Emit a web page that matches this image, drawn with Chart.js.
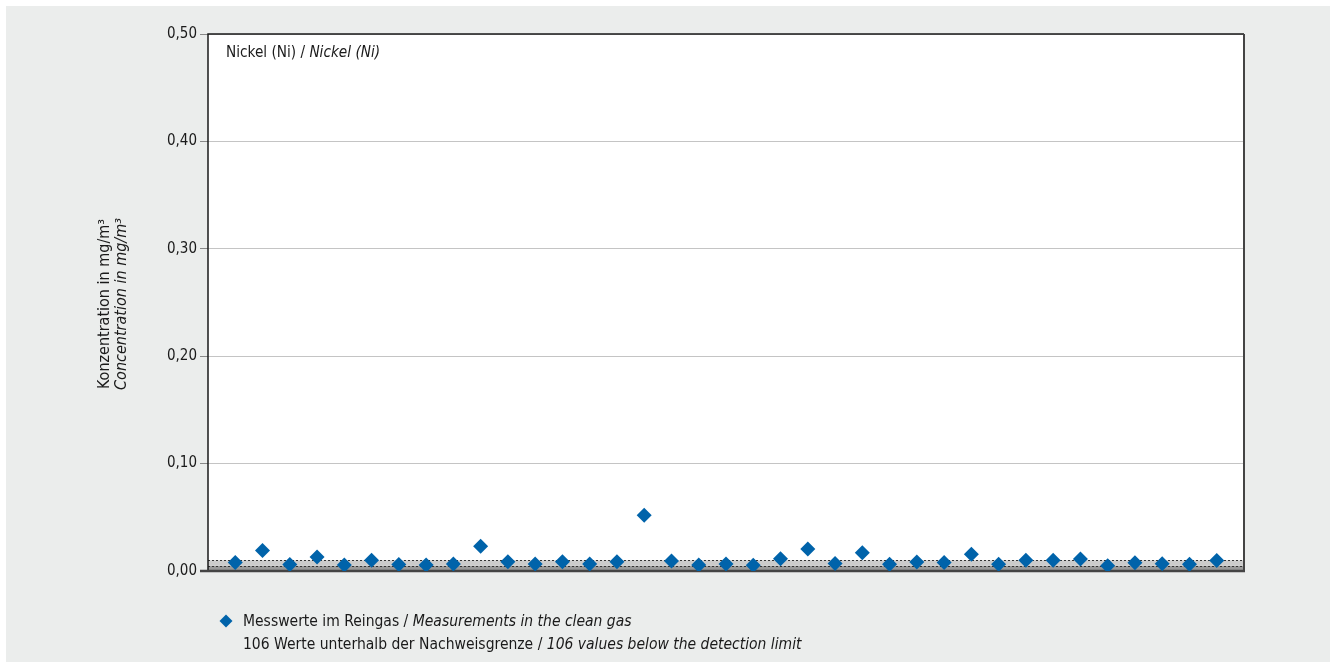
<!DOCTYPE html>
<html>
<head>
<meta charset="utf-8">
<script src="https://cdn.jsdelivr.net/npm/chart.js@4"></script>
<style>
  html, body { margin: 0; padding: 0; background: #fff; }
  #wrap { width: 1336px; height: 668px; }
</style>
</head>
<body>
<div id="wrap"><canvas id="myChart" width="1336" height="668"></canvas></div>
<script>
const FONT = "'Liberation Sans Narrow', 'DejaVu Sans Condensed', 'Liberation Sans', sans-serif";

// measurement index (1..37) and concentration in mg/m3
const positions = [1, 2, 3, 4, 5, 6, 7, 8, 9, 10, 11, 12, 13, 14, 15, 16, 17, 18, 19,
    20, 21, 22, 23, 24, 25, 26, 27, 28, 29, 30, 31, 32, 33, 34, 35, 36, 37];
const values = [0.008, 0.019, 0.006, 0.013, 0.0055, 0.010, 0.006, 0.0055, 0.0065, 0.023,
    0.0087, 0.0065, 0.0087, 0.0065, 0.0087, 0.052, 0.0093, 0.0055, 0.0065, 0.0053,
    0.0115, 0.0205, 0.007, 0.017, 0.0062, 0.0084, 0.0078, 0.0155, 0.0062, 0.0100,
    0.0100, 0.0112, 0.005, 0.0077, 0.0068, 0.0062, 0.0097];
const yTicks = [0, 0.1, 0.2, 0.3, 0.4, 0.5];
const detectionBand = [0.005, 0.01];

const titleRuns = [['Nickel (Ni) / ', false], ['Nickel (Ni)', true]];
const legendLine1 = [['Messwerte im Reingas / ', false], ['Measurements in the clean gas', true]];
const legendLine2 = [['106 Werte unterhalb der Nachweisgrenze / ', false], ['106 values below the detection limit', true]];
const axisTitle1 = 'Konzentration in mg/m³';
const axisTitle2 = 'Concentration in mg/m³';

const BLUE = '#0063aa';

function drawRuns(c, runs, x, y, size) {
    let cx = x;
    runs.forEach(function (r) {
        c.font = (r[1] ? 'italic ' : '') + size + 'px ' + FONT;
        c.fillText(r[0], cx, y);
        cx += c.measureText(r[0]).width;
    });
}

const decorPlugin = {
    id: 'decor',
    beforeDraw: function (chart) {
        const c = chart.ctx;
        c.save();
        c.fillStyle = '#ffffff';
        c.fillRect(0, 0, chart.width, chart.height);
        c.fillStyle = '#ebedec';
        c.fillRect(6, 6, chart.width - 12, chart.height - 12);
        const a = chart.chartArea;
        c.fillStyle = '#ffffff';
        c.fillRect(a.left, a.top, a.right - a.left, a.bottom - a.top);
        c.restore();
    },
    beforeDatasetsDraw: function (chart) {
        const c = chart.ctx;
        const a = chart.chartArea;
        const y = chart.scales.y;
        const yLo = y.getPixelForValue(detectionBand[0]);
        const yHi = y.getPixelForValue(detectionBand[1]);
        const y0 = y.getPixelForValue(0);
        c.save();
        c.fillStyle = '#999999';
        c.fillRect(a.left, yLo, a.right - a.left, y0 - yLo);
        c.fillStyle = '#cbcbcb';
        c.fillRect(a.left, yHi, a.right - a.left, yLo - yHi);
        c.strokeStyle = '#333';
        c.lineWidth = 1;
        c.setLineDash([2, 2]);
        [yHi, yLo].forEach(function (py) {
            c.beginPath();
            c.moveTo(a.left, Math.round(py) + 0.5);
            c.lineTo(a.right, Math.round(py) + 0.5);
            c.stroke();
        });
        c.setLineDash([]);

        // frame
        c.strokeStyle = '#1a1a1a';
        c.lineWidth = 1.5;
        c.beginPath();
        c.moveTo(a.left, a.bottom);
        c.lineTo(a.left, a.top);
        c.lineTo(a.right, a.top);
        c.stroke();
        c.strokeStyle = '#444';
        c.lineWidth = 2;
        c.beginPath();
        c.moveTo(a.right, a.top);
        c.lineTo(a.right, a.bottom);
        c.stroke();
        c.lineWidth = 2.5;
        c.beginPath();
        c.moveTo(a.left - 8, a.bottom);
        c.lineTo(a.right + 1, a.bottom);
        c.stroke();
        c.restore();
    },
    afterDraw: function (chart) {
        const c = chart.ctx;
        const a = chart.chartArea;
        c.save();
        c.fillStyle = '#1a1a1a';
        c.textBaseline = 'middle';
        c.textAlign = 'left';
        drawRuns(c, titleRuns, a.left + 18, a.top + 19, 15.2);

        // legend
        c.fillStyle = BLUE;
        c.beginPath();
        c.moveTo(226, 614.5);
        c.lineTo(232.5, 621);
        c.lineTo(226, 627.5);
        c.lineTo(219.5, 621);
        c.closePath();
        c.fill();
        c.fillStyle = '#1a1a1a';
        drawRuns(c, legendLine1, 243, 622, 15.5);
        drawRuns(c, legendLine2, 243, 645, 15.5);

        // y axis title
        c.translate(105, 304);
        c.rotate(-Math.PI / 2);
        c.textAlign = 'center';
        c.font = '16px ' + FONT;
        c.fillText(axisTitle1, 0, 0);
        c.font = 'italic 16px ' + FONT;
        c.fillText(axisTitle2, 0, 17);
        c.restore();
    }
};

new Chart(document.getElementById('myChart'), {
    type: 'scatter',
    data: {
        datasets: [{
            label: 'Messwerte im Reingas',
            data: positions.map(function (p, i) { return { x: p, y: values[i] }; }),
            pointStyle: 'rectRot',
            pointRadius: 7.5,
            pointHoverRadius: 7.5,
            backgroundColor: BLUE,
            borderColor: BLUE,
            borderWidth: 0
        }]
    },
    options: {
        responsive: false,
        animation: false,
        events: [],
        layout: { padding: { left: 0, top: 34, right: 92, bottom: 97 } },
        scales: {
            x: {
                type: 'linear',
                min: 0,
                max: 38,
                display: false
            },
            y: {
                min: 0,
                max: 0.5,
                afterFit: function (scale) { scale.width = 208; },
                afterBuildTicks: function (scale) {
                    scale.ticks = yTicks.map(function (v) { return { value: v }; });
                },
                ticks: {
                    padding: 3,
                    color: '#1a1a1a',
                    font: { family: FONT, size: 15 },
                    callback: function (v) { return v.toFixed(2).replace('.', ','); }
                },
                grid: {
                    color: '#c4c4c4',
                    lineWidth: 1,
                    tickLength: 8,
                    tickColor: '#888'
                },
                border: { display: false }
            }
        },
        plugins: {
            legend: { display: false },
            tooltip: { enabled: false }
        }
    },
    plugins: [decorPlugin]
});
</script>
</body>
</html>
